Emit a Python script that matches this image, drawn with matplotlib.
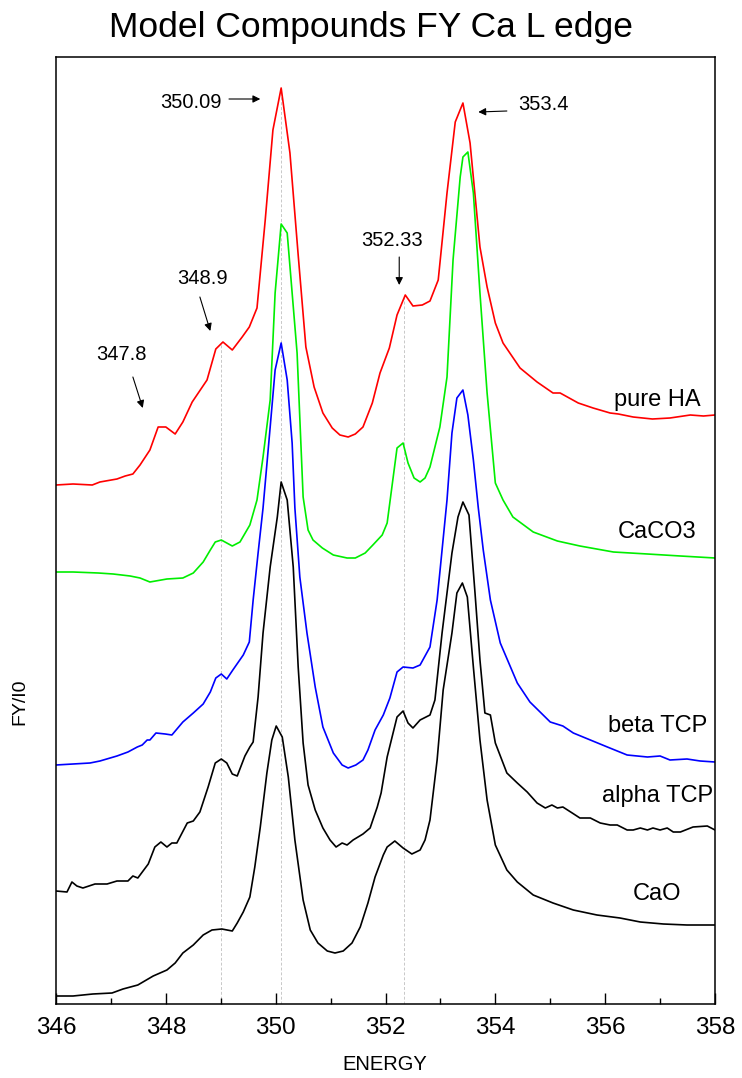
import matplotlib
matplotlib.use("Agg")
import matplotlib.pyplot as plt

plt.rcParams['font.family'] = ['Liberation Sans', 'DejaVu Sans']

# pure HA (red)
ha_e = [346.00, 346.31, 346.66, 346.80, 347.11, 347.26, 347.40, 347.53, 347.71, 347.86,
        348.00, 348.17, 348.31, 348.48, 348.75, 348.91, 349.04, 349.21, 349.39, 349.52,
        349.66, 349.81, 349.95, 350.10, 350.26, 350.41, 350.55, 350.70, 350.86, 351.03,
        351.17, 351.32, 351.45, 351.59, 351.76, 351.90, 352.07, 352.21, 352.36, 352.50,
        352.67, 352.81, 352.96, 353.12, 353.27, 353.41, 353.54, 353.72, 353.85, 354.00,
        354.14, 354.45, 354.76, 355.05, 355.18, 355.51, 355.78, 356.09, 356.24, 356.51,
        356.86, 357.18, 357.55, 357.79, 358.00]
ha_y = [5.19, 5.20, 5.19, 5.22, 5.25, 5.28, 5.30, 5.39, 5.54, 5.77,
        5.77, 5.70, 5.82, 6.02, 6.24, 6.55, 6.62, 6.54, 6.67, 6.77,
        6.96, 7.84, 8.74, 9.16, 8.51, 7.49, 6.57, 6.17, 5.91, 5.76,
        5.69, 5.67, 5.70, 5.77, 6.01, 6.31, 6.56, 6.89, 7.09, 6.98,
        6.99, 7.03, 7.24, 8.11, 8.82, 9.01, 8.61, 7.57, 7.17, 6.81,
        6.61, 6.36, 6.22, 6.11, 6.11, 6.01, 5.96, 5.91, 5.90, 5.87,
        5.85, 5.86, 5.89, 5.88, 5.89]

# CaCO3 (green)
caco3_e = [346.00, 346.31, 346.77, 347.04, 347.35, 347.53, 347.71, 348.02, 348.31, 348.50,
           348.68, 348.81, 348.90, 349.01, 349.21, 349.35, 349.53, 349.66, 349.77, 349.90,
           349.99, 350.10, 350.21, 350.39, 350.50, 350.59, 350.68, 350.85, 351.05, 351.30,
           351.45, 351.63, 351.77, 351.94, 352.03, 352.21, 352.32, 352.41, 352.52, 352.63,
           352.72, 352.81, 352.99, 353.12, 353.23, 353.36, 353.41, 353.50, 353.60, 353.72,
           353.85, 354.00, 354.14, 354.32, 354.69, 355.13, 355.54, 356.15, 356.77, 357.37,
           358.00]
caco3_y = [4.32, 4.32, 4.31, 4.30, 4.28, 4.26, 4.22, 4.25, 4.26, 4.31,
           4.42, 4.54, 4.62, 4.64, 4.58, 4.62, 4.79, 5.04, 5.47, 6.04,
           7.11, 7.80, 7.71, 6.51, 5.07, 4.74, 4.64, 4.56, 4.49, 4.46,
           4.46, 4.51, 4.59, 4.69, 4.81, 5.56, 5.61, 5.41, 5.26, 5.22,
           5.26, 5.37, 5.77, 6.27, 7.44, 8.27, 8.47, 8.52, 8.11, 7.11,
           6.11, 5.21, 5.04, 4.87, 4.72, 4.63, 4.58, 4.52, 4.50, 4.48,
           4.46]

# beta TCP (blue)
beta_e = [346.00, 346.31, 346.62, 346.80, 347.11, 347.31, 347.48, 347.57, 347.66, 347.71,
          347.82, 347.99, 348.11, 348.31, 348.50, 348.68, 348.81, 348.91, 349.01, 349.11,
          349.22, 349.41, 349.52, 349.59, 349.68, 349.77, 349.90, 349.99, 350.10, 350.21,
          350.30, 350.35, 350.44, 350.57, 350.72, 350.86, 351.05, 351.21, 351.32, 351.46,
          351.59, 351.68, 351.81, 351.96, 352.08, 352.21, 352.32, 352.50, 352.63, 352.81,
          352.94, 353.03, 353.12, 353.21, 353.30, 353.41, 353.50, 353.60, 353.69, 353.78,
          353.91, 354.09, 354.40, 354.63, 355.00, 355.23, 355.42, 355.73, 356.04, 356.40,
          356.77, 357.00, 357.18, 357.49, 357.73, 358.00]
beta_y = [2.39, 2.40, 2.41, 2.43, 2.48, 2.52, 2.57, 2.59, 2.64, 2.64,
          2.71, 2.70, 2.69, 2.82, 2.91, 3.00, 3.12, 3.26, 3.30, 3.25,
          3.34, 3.49, 3.62, 4.04, 4.51, 4.96, 5.77, 6.34, 6.61, 6.24,
          5.61, 4.96, 4.27, 3.71, 3.17, 2.77, 2.51, 2.39, 2.36, 2.39,
          2.44, 2.54, 2.74, 2.89, 3.06, 3.32, 3.37, 3.36, 3.39, 3.57,
          4.04, 4.54, 5.04, 5.71, 6.06, 6.14, 5.89, 5.44, 4.96, 4.54,
          4.04, 3.61, 3.21, 3.02, 2.82, 2.78, 2.71, 2.64, 2.57, 2.49,
          2.47, 2.48, 2.44, 2.45, 2.43, 2.42]

# alpha TCP (black)
alpha_e = [346.00, 346.20, 346.29, 346.38, 346.49, 346.71, 346.93, 347.11, 347.31, 347.40,
           347.49, 347.68, 347.80, 347.91, 348.02, 348.11, 348.20, 348.39, 348.50, 348.62,
           348.77, 348.90, 349.01, 349.11, 349.21, 349.30, 349.44, 349.53, 349.59, 349.68,
           349.77, 349.90, 350.03, 350.10, 350.21, 350.32, 350.41, 350.50, 350.59, 350.72,
           350.86, 350.99, 351.10, 351.21, 351.30, 351.41, 351.59, 351.72, 351.85, 351.92,
           352.03, 352.21, 352.32, 352.41, 352.50, 352.63, 352.81, 352.90, 353.03, 353.21,
           353.32, 353.41, 353.52, 353.63, 353.72, 353.81, 353.91, 354.00, 354.21, 354.40,
           354.58, 354.76, 354.91, 355.03, 355.13, 355.23, 355.40, 355.54, 355.73, 355.91,
           356.09, 356.22, 356.40, 356.51, 356.64, 356.77, 356.87, 357.00, 357.13, 357.24,
           357.37, 357.60, 357.86, 358.00]
alpha_y = [1.13, 1.12, 1.22, 1.18, 1.16, 1.20, 1.20, 1.23, 1.23, 1.28,
           1.26, 1.40, 1.57, 1.62, 1.57, 1.61, 1.61, 1.81, 1.83, 1.92,
           2.17, 2.41, 2.45, 2.41, 2.30, 2.28, 2.48, 2.57, 2.62, 3.07,
           3.71, 4.37, 4.87, 5.22, 5.04, 4.37, 3.37, 2.61, 2.19, 1.94,
           1.76, 1.64, 1.57, 1.61, 1.59, 1.64, 1.70, 1.76, 1.97, 2.11,
           2.47, 2.87, 2.93, 2.81, 2.76, 2.84, 2.89, 3.04, 3.71, 4.51,
           4.87, 5.02, 4.89, 4.11, 3.44, 2.91, 2.89, 2.61, 2.31, 2.21,
           2.12, 2.01, 1.96, 1.99, 1.96, 1.97, 1.91, 1.86, 1.86, 1.81,
           1.79, 1.79, 1.74, 1.74, 1.76, 1.74, 1.76, 1.74, 1.76, 1.72,
           1.72, 1.77, 1.78, 1.74]

# CaO (black)
cao_e = [346.00, 346.31, 346.67, 347.02, 347.22, 347.49, 347.77, 348.02, 348.17, 348.31,
         348.50, 348.68, 348.84, 349.02, 349.21, 349.30, 349.41, 349.53, 349.62, 349.72,
         349.84, 349.93, 350.01, 350.12, 350.23, 350.35, 350.50, 350.63, 350.77, 350.94,
         351.08, 351.23, 351.39, 351.54, 351.68, 351.81, 351.96, 352.03, 352.17, 352.32,
         352.48, 352.63, 352.72, 352.81, 352.94, 353.05, 353.21, 353.30, 353.40, 353.49,
         353.60, 353.72, 353.85, 354.00, 354.21, 354.40, 354.69, 355.05, 355.42, 355.85,
         356.27, 356.64, 357.06, 357.49, 358.00]
cao_y = [0.08, 0.08, 0.10, 0.11, 0.15, 0.19, 0.28, 0.34, 0.41, 0.51,
         0.59, 0.69, 0.74, 0.75, 0.73, 0.81, 0.92, 1.07, 1.37, 1.77,
         2.31, 2.64, 2.78, 2.67, 2.27, 1.64, 1.04, 0.74, 0.61, 0.53,
         0.51, 0.53, 0.61, 0.77, 1.01, 1.27, 1.49, 1.57, 1.63, 1.56,
         1.50, 1.54, 1.64, 1.84, 2.44, 3.14, 3.71, 4.11, 4.21, 4.07,
         3.37, 2.64, 2.04, 1.59, 1.34, 1.22, 1.09, 1.01, 0.94, 0.89,
         0.86, 0.82, 0.80, 0.79, 0.79]

names = ["pure HA", "CaCO3", "beta TCP", "alpha TCP", "CaO"]
label_y = [6.04, 4.72, 2.78, 2.08, 1.10]

# marked energies, with how high the guide line goes
guide_e = [349.0, 350.09, 352.33]
guide_top = [6.62, 9.16, 7.09]

fig = plt.figure(figsize=(7.42, 10.78), dpi=100)
ax = fig.add_axes([56/742, 1-1004/1078, (715-56)/742, (1004-57)/1078])

ax.vlines(guide_e, 0, guide_top, colors='#c8c8c8', linestyles=(0, (3, 2)), lw=0.7, zorder=1)

ax.plot(ha_e, ha_y, color='#ff0000', lw=1.2)
ax.plot(caco3_e, caco3_y, color='#00ee00', lw=1.2)
ax.plot(beta_e, beta_y, color='#0000ff', lw=1.2)
ax.plot(alpha_e, alpha_y, color='black', lw=1.2)
ax.plot(cao_e, cao_y, color='black', lw=1.2)

for n, yy in zip(names, label_y):
    ax.text(356.95, yy, n, ha='center', va='center', fontsize=17)

arr = dict(arrowstyle='-|>', color='black', lw=0.8, mutation_scale=11, shrinkA=0, shrinkB=0)
ax.text(348.46, 9.02, "350.09", ha='center', va='center', fontsize=14.5)
ax.annotate('', xy=(349.72, 9.05), xytext=(349.15, 9.05), arrowprops=arr)
ax.text(348.66, 7.25, "348.9", ha='center', va='center', fontsize=14.5)
ax.annotate('', xy=(348.81, 6.73), xytext=(348.62, 7.07), arrowprops=arr)
ax.text(347.20, 6.50, "347.8", ha='center', va='center', fontsize=14.5)
ax.annotate('', xy=(347.58, 5.96), xytext=(347.40, 6.27), arrowprops=arr)
ax.text(352.12, 7.64, "352.33", ha='center', va='center', fontsize=14.5)
ax.annotate('', xy=(352.25, 7.19), xytext=(352.25, 7.47), arrowprops=arr)
ax.text(354.87, 9.00, "353.4", ha='center', va='center', fontsize=14.5)
ax.annotate('', xy=(353.69, 8.92), xytext=(354.21, 8.93), arrowprops=arr)

ax.set_xlim(346, 358)
ax.set_ylim(0, 9.47)
ax.set_xticks(range(346, 359, 2))
ax.set_xticks(range(347, 358, 2), minor=True)
ax.set_yticks([])
ax.tick_params(axis='x', which='major', direction='in', length=8, width=1, labelsize=17.5, pad=9)
ax.tick_params(axis='x', which='minor', direction='in', length=4, width=1)
for s in ax.spines.values():
    s.set_linewidth(1.1)

fig.text(371/742, 1-28/1078, "Model Compounds FY Ca L edge", ha='center', va='center', fontsize=25.5)
fig.text(385/742, 1-1065/1078, "ENERGY", ha='center', va='center', fontsize=14.5)
fig.text(20/742, 1-702/1078, "FY/I0", ha='center', va='center', rotation=90, fontsize=14)

fig.savefig("out.png", dpi=100)
